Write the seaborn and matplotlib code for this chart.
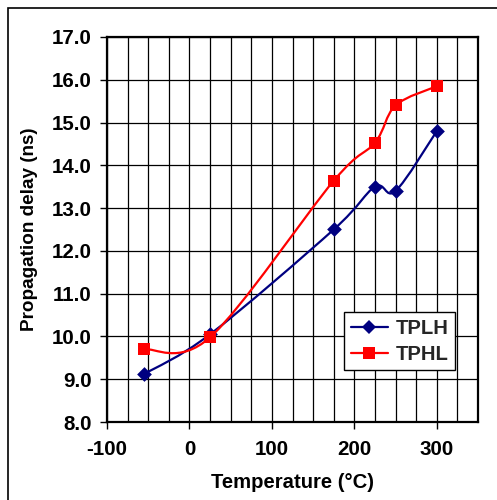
import numpy as np
import pandas as pd
import seaborn as sns
import matplotlib
matplotlib.use("Agg")
import matplotlib.pyplot as plt
from matplotlib.path import Path
from matplotlib.patches import PathPatch, Rectangle
from matplotlib.lines import Line2D
from matplotlib.ticker import MultipleLocator, FormatStrFormatter

# ---- data ----
temperature = [-55, 25, 175, 225, 250, 300]
tplh = [9.12, 10.05, 12.50, 13.50, 13.40, 14.80]
tphl = [9.70, 9.98, 13.64, 14.53, 15.40, 15.85]
series_names = ["TPLH", "TPHL"]
series_colors = {"TPLH": "#000080", "TPHL": "#FF0000"}
series_markers = {"TPLH": "D", "TPHL": "s"}
marker_sizes = {"TPLH": 7.5, "TPHL": 9.0}
x_ticks = [-100, 0, 100, 200, 300]
y_ticks = [8.0, 9.0, 10.0, 11.0, 12.0, 13.0, 14.0, 15.0, 16.0, 17.0]

df = pd.DataFrame({
    "Temperature": temperature * 2,
    "Delay": tplh + tphl,
    "Series": ["TPLH"] * len(temperature) + ["TPHL"] * len(temperature),
})

sns.set_theme(style="white")
plt.rcParams["font.family"] = ["Liberation Sans", "DejaVu Sans"]
plt.rcParams["font.weight"] = "bold"
plt.rcParams["axes.unicode_minus"] = False

W, H = 497, 500
fig = plt.figure(figsize=(W / 100, H / 100), dpi=100)
ax = fig.add_axes([107 / W, 1 - 422 / H, (478 - 107) / W, (422 - 37) / H])

# smoothed (Excel-like) curves through the data points
def smooth_path(xs, ys):
    pts = np.column_stack([xs, ys]).astype(float)
    n = len(pts)
    verts = [pts[0]]
    codes = [Path.MOVETO]
    for i in range(n - 1):
        p0 = pts[i - 1] if i > 0 else pts[i]
        p1 = pts[i]
        p2 = pts[i + 1]
        p3 = pts[i + 2] if i + 2 < n else pts[i + 1]
        c1 = p1 + (p2 - p0) / 6.0
        c2 = p2 - (p3 - p1) / 6.0
        verts += [c1, c2, p2]
        codes += [Path.CURVE4] * 3
    return Path(verts, codes)

for name in series_names:
    sub = df[df["Series"] == name]
    patch = PathPatch(smooth_path(sub["Temperature"].values, sub["Delay"].values),
                      fill=False, edgecolor=series_colors[name], lw=1.6, zorder=3)
    ax.add_patch(patch)

for name in series_names:
    sub = df[df["Series"] == name]
    sns.scatterplot(data=sub, x="Temperature", y="Delay", ax=ax,
                    color=series_colors[name], marker=series_markers[name],
                    s=marker_sizes[name] ** 2, linewidth=0, zorder=4, legend=False)

ax.set_xlim(-100, 350)
ax.set_ylim(8.0, 17.0)
ax.set_xticks(x_ticks)
ax.xaxis.set_minor_locator(MultipleLocator(25))
ax.set_yticks(y_ticks)
ax.yaxis.set_major_formatter(FormatStrFormatter("%.1f"))
ax.grid(True, which="major", color="black", lw=0.9)
ax.grid(True, which="minor", axis="x", color="black", lw=0.9)
ax.set_axisbelow(True)
for sp in ax.spines.values():
    sp.set_color("black")
    sp.set_linewidth(1.6)
ax.tick_params(axis="both", which="major", direction="out", length=5, width=1,
               color="black", labelsize=14.8, bottom=True, left=True)
ax.tick_params(axis="x", which="major", pad=8)
ax.tick_params(axis="y", which="major", pad=6)
ax.tick_params(axis="x", which="minor", length=0)
for lab in ax.get_xticklabels() + ax.get_yticklabels():
    lab.set_fontweight("bold")
    lab.set_color("black")

ax.set_xlabel("Temperature (°C)", fontsize=14.6, fontweight="bold", color="black", labelpad=10)
ax.set_ylabel("Propagation delay (ns)", fontsize=13.6, fontweight="bold", color="black", labelpad=10)

handles = [Line2D([0], [0], color=series_colors[n], lw=1.6, marker=series_markers[n],
                  markersize=marker_sizes[n], markeredgewidth=0) for n in series_names]
leg = ax.legend(handles, series_names, loc="upper left",
                bbox_to_anchor=(344 / W, 1 - 312 / H), bbox_transform=fig.transFigure,
                borderaxespad=0, frameon=True, fancybox=False, shadow=False,
                prop={"size": 14.6, "weight": "bold"}, handlelength=1.85,
                handletextpad=0.35, labelspacing=0.35, borderpad=0.33)
leg.get_frame().set_edgecolor("black")
leg.get_frame().set_linewidth(1.0)
leg.get_frame().set_facecolor("white")
leg.get_frame().set_alpha(1)

fig.add_artist(Rectangle((8 / W, -0.1), 1.2, 1 - 8 / H + 0.1, transform=fig.transFigure,
                         fill=False, edgecolor="black", lw=1.2))

fig.savefig("out.png", dpi=100, facecolor="white")
